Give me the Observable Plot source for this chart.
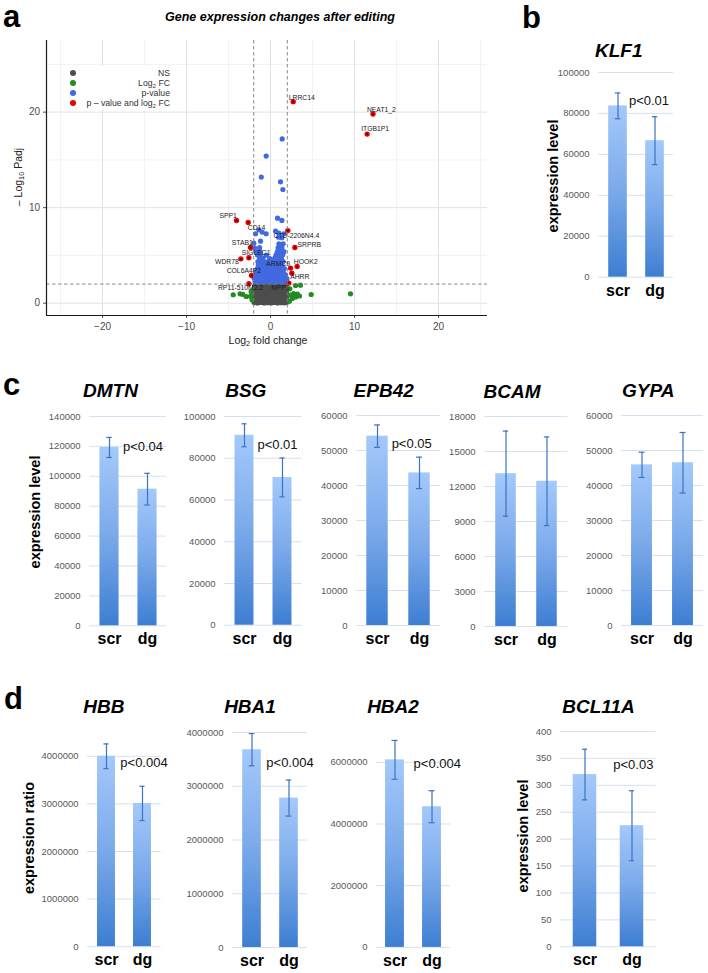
<!DOCTYPE html>
<html><head><meta charset="utf-8">
<script src="https://cdn.jsdelivr.net/npm/d3@7"></script>
<script src="https://cdn.jsdelivr.net/npm/@observablehq/plot@0.6"></script>
<style>
body{margin:0;background:#fff;font-family:"Liberation Sans",Arial,sans-serif;}
#fig{position:relative;width:708px;height:973px;overflow:hidden;background:#fff;}
.abs{position:absolute;white-space:nowrap;line-height:1;z-index:5;}
.letter{font-weight:bold;font-size:31px;color:#000;}
.gtitle{font-weight:bold;font-style:italic;font-size:19px;color:#000;transform:translate(-50%,-50%);}
.pval{font-size:13px;color:#111;transform:translate(-50%,-50%);}
.ylab{font-weight:bold;font-size:14.5px;color:#000;transform:translate(-50%,-50%) rotate(-90deg);}
.vt{font-size:10.5px;color:#222;transform:translate(-50%,-50%);}
sub{font-size:70%;vertical-align:0;position:relative;top:0.3em;line-height:0;}
#fig svg.plotsvg{position:absolute;overflow:visible;}
</style></head><body><div id="fig"></div>
<script>
// ---------- Volcano data (panel a) ----------
const volXDomain = [-26.67, 25.83];
const volYDomain = [-1.29, 27.5];
const volMajorX = [-20, -10, 0, 10, 20];
const volMinorX = [-25, -15, -5, 5, 15, 25];
const volMajorY = [0, 10, 20];
const volMinorY = [5, 15, 25];
const fcCutoff = [-2, 2];
const pCutoff = [2];

const nsPoints = [
  [-1.95,0.06],[-1.55,0.03],[-1.15,0.08],[-0.75,0.02],[-0.35,0.05],[0.05,0.03],[0.45,0.07],[0.85,0.02],[1.25,0.05],[1.65,0.04],[1.95,0.09],
  [-2.05,0.42],[-1.7,0.38],[-1.3,0.41],[-0.9,0.36],[-0.5,0.44],[-0.1,0.39],[0.3,0.43],[0.7,0.37],[1.1,0.42],[1.5,0.4],[1.85,0.45],
  [-1.95,0.78],[-1.55,0.74],[-1.15,0.79],[-0.75,0.72],[-0.35,0.77],[0.05,0.75],[0.45,0.8],[0.85,0.73],[1.25,0.76],[1.65,0.79],[1.95,0.71],
  [-2.0,1.12],[-1.65,1.08],[-1.25,1.13],[-0.85,1.07],[-0.45,1.1],[-0.05,1.14],[0.35,1.09],[0.75,1.12],[1.15,1.06],[1.55,1.11],[1.9,1.15],
  [-1.95,1.47],[-1.55,1.43],[-1.15,1.48],[-0.75,1.42],[-0.35,1.46],[0.05,1.44],[0.45,1.49],[0.85,1.41],[1.25,1.46],[1.65,1.43],[1.95,1.5],
  [-1.9,1.78],[-1.5,1.74],[-1.1,1.8],[-0.7,1.76],[-0.3,1.79],[0.1,1.73],[0.5,1.78],[0.9,1.75],[1.3,1.8],[1.7,1.77]
];
const fcPoints = [
  [-4.44,0.88],[-3.62,0.98],[-3.3,0.93],[-2.9,0.7],[-2.4,0.72],[-2.2,0.35],[-2.3,1.2],
  [2.4,0.85],[2.6,0.5],[2.75,1.0],[3.0,0.65],[3.2,0.95],[3.45,0.75],[2.98,1.85],[3.57,1.88],
  [2.3,1.5],[4.84,0.91],[9.52,0.98],[2.25,0.2]
];
const pvPoints = [
  [-1.85,2.25],[-1.45,2.27],[-1.05,2.22],[-0.65,2.26],[-0.25,2.24],[0.15,2.28],[0.55,2.23],[0.95,2.26],[1.35,2.21],[1.75,2.27],
  [-1.95,2.6],[-1.6,2.62],[-1.2,2.58],[-0.8,2.61],[-0.4,2.57],[0.0,2.63],[0.4,2.59],[0.8,2.62],[1.2,2.58],[1.6,2.61],[1.95,2.57],
  [-1.8,2.95],[-1.4,2.97],[-1.0,2.93],[-0.6,2.96],[-0.2,2.94],[0.2,2.98],[0.6,2.92],[1.0,2.96],[1.4,2.93],[1.8,2.97],
  [-1.7,3.3],[-1.3,3.32],[-0.9,3.28],[-0.5,3.31],[-0.1,3.29],[0.3,3.33],[0.7,3.27],[1.1,3.31],[1.5,3.3],
  [-1.55,3.65],[-1.15,3.67],[-0.75,3.63],[-0.35,3.66],[0.05,3.64],[0.45,3.68],[0.85,3.62],[1.25,3.66],[1.65,3.63],
  [-1.45,4.0],[-1.05,4.02],[-0.65,3.98],[-0.25,4.01],[0.15,3.99],[0.55,4.03],[0.95,3.97],[1.35,4.01],
  [-1.5,4.35],[-1.1,4.37],[-0.7,4.33],[-0.3,4.36],[0.3,4.34],[0.7,4.38],[1.1,4.32],[1.5,4.36],
  [-1.3,4.7],[-0.9,4.72],[-0.1,4.68],[0.5,4.71],[0.9,4.69],[1.3,4.73],
  [-1.55,5.05],[-1.2,5.07],[-0.5,5.03],[0.65,5.06],[1.05,5.04],[1.45,5.08],
  [-1.7,5.4],[-1.25,5.42],[0.8,5.38],[1.2,5.41],[1.6,5.39],
  [-1.9,5.8],[-1.3,5.82],[0.9,5.78],[1.35,5.81],
  [-1.98,6.28],[-1.19,6.49],[1.0,6.2],[1.5,6.22],
  [1.35,6.85],[0.95,6.9],
  [-1.79,7.27],[-1.39,7.68],[-0.99,7.44],[-0.52,7.27],[0.6,7.54],[0.99,7.33],[1.58,7.27],
  [0.83,8.9],[1.35,8.66],[1.19,12.7],[1.47,11.9],[-1.1,13.2],[-0.52,15.4],[1.39,17.2]
];
const sigGenes = ["LRRC14","NEAT1_2","ITGB1P1","SPP1","CD14","CTD-2206N4.4","SRPRB","STAB1","SIGLEC1","WDR78","HOOK2","ARMC9","AHRR","COL6A4P2","RP11-510M2.2","MPP1"];
const sigX = [2.7,12.2,11.5,-4.05,-2.66,2.06,2.9,-2.38,-2.58,-3.53,3.17,2.38,2.54,-2.26,-2.58,2.18];
const sigY = [21.1,19.8,17.7,8.66,8.45,7.6,5.83,5.83,4.75,4.64,3.84,3.67,3.14,2.9,2.03,2.1];
const sigLabelOffsets = [[8.6,-4.3],[8.4,-4.6],[8,-5],[-8.3,-5],[8.3,5.7],[8.5,5.3],[14.4,-2.3],[-8.3,-5],[7.2,-4.6],[-14,2.7],[8.6,-4.7],[-12.3,-4],[7.9,4],[-7.7,-5],[-8.3,4.4],[-8.3,5]];
const legendLabels = ["NS","Log<sub>2</sub> FC","p-value","p \u2013 value and log<sub>2</sub> FC"];
const legendColors = ["#4d4d4d","#228b22","#4169e1","#ee0000"];

// ---------- Bar chart data (panels b, c, d) ----------
const groups = ["scr","dg"];
const genes   = ["KLF1","DMTN","BSG","EPB42","BCAM","GYPA","HBB","HBA1","HBA2","BCL11A"];
const scrMean = [83700,119300,91000,54100,13100,45900,4000000,3680000,6080000,320];
const scrErr  = [6300,6700,5500,3200,3650,3600,260000,300000,630000,47];
const dgMean  = [66700,91400,70800,43600,12450,46500,3010000,2780000,4560000,225];
const dgErr   = [11700,10600,9300,4500,3800,8650,360000,335000,520000,65];
const yMax    = [100000,140000,100000,60000,18000,60000,4500000,4000000,7000000,400];
const yTicks  = [
  [0,20000,40000,60000,80000,100000],
  [0,20000,40000,60000,80000,100000,120000,140000],
  [0,20000,40000,60000,80000,100000],
  [0,10000,20000,30000,40000,50000,60000],
  [0,3000,6000,9000,12000,15000,18000],
  [0,10000,20000,30000,40000,50000,60000],
  [0,1000000,2000000,3000000,4000000],
  [0,1000000,2000000,3000000,4000000],
  [0,2000000,4000000,6000000],
  [0,50,100,150,200,250,300,350,400]
];
const pLabels = ["p<0.01","p<0.04","p<0.01","p<0.05",null,null,"p<0.004","p<0.004","p<0.004","p<0.03"];
const yTitles = ["expression level","expression level",null,null,null,null,"expression ratio",null,null,"expression level"];

// ---------- layout (pixels) ----------
const barLayout = [ // plot left, plot right, top, zero line
  [598,673,72,276.7],[89,166,415.7,625],[224,301.7,416.25,625],[356,440,415,625],[484.3,567.7,416,626],
  [621,703,415,625],[87,160.7,731.8,946],[231.7,306.7,731.7,946.7],[376,450,730.8,946.7],[560,655.7,730.7,946]
];
const titlePos = [[618.8,50],[110.5,390],[245.8,390],[383.7,390],[512,391],[648.3,390],[103.8,706],[250,706],[393,706],[598.5,706]];
const pPos = [[649,100],[143,445.7],[277.5,444],[411.7,442.7],null,null,[144,762.3],[290,762.3],[437.3,762.7],[633.3,764]];
const yTitlePos = [[553,176],[35,512],null,null,null,null,[29,838],null,null,[523.3,836]];

const fig = document.getElementById("fig");
function addDiv(html, cls, left, top) {
  const d = document.createElement("div");
  d.className = "abs " + cls;
  d.innerHTML = html;
  d.style.left = left + "px";
  d.style.top = top + "px";
  fig.appendChild(d);
  return d;
}
function place(svg, left, top) {
  svg.classList.add("plotsvg");
  svg.style.left = left + "px";
  svg.style.top = top + "px";
  fig.appendChild(svg);
}

// gradient definition shared by bars
const NS = "http://www.w3.org/2000/svg";
const gsvg = document.createElementNS(NS, "svg");
gsvg.setAttribute("width", 0); gsvg.setAttribute("height", 0);
gsvg.style.position = "absolute";
gsvg.innerHTML = '<defs><linearGradient id="barGrad" x1="0" y1="0" x2="0" y2="1">' +
  '<stop offset="0" stop-color="#a4c9fb"/><stop offset="0.5" stop-color="#7aa9ea"/><stop offset="1" stop-color="#3d7ed2"/></linearGradient></defs>';
fig.appendChild(gsvg);

// ---------- Panel a: volcano ----------
const xy = {x: d => d[0], y: d => d[1]};
const sig = sigGenes.map((g, i) => ({g, x: sigX[i], y: sigY[i]}));
const volcano = Plot.plot({
  width: 490, height: 350,
  marginLeft: 46, marginRight: 3, marginTop: 40, marginBottom: 35,
  x: {domain: volXDomain},
  y: {domain: volYDomain},
  style: {background: "transparent", fontFamily: "Liberation Sans, Arial, sans-serif", overflow: "visible"},
  marks: [
    Plot.ruleX(volMinorX, {stroke: "#ededed", strokeWidth: 0.8}),
    Plot.ruleY(volMinorY, {stroke: "#ededed", strokeWidth: 0.8}),
    Plot.ruleX(volMajorX, {stroke: "#e2e2e2", strokeWidth: 1}),
    Plot.ruleY(volMajorY, {stroke: "#e2e2e2", strokeWidth: 1}),
    Plot.dot(nsPoints, {...xy, r: 2.6, fill: legendColors[0]}),
    Plot.dot(fcPoints, {...xy, r: 2.6, fill: legendColors[1]}),
    Plot.dot(pvPoints, {...xy, r: 2.6, fill: legendColors[2]}),
    Plot.dot(sig, {x: "x", y: "y", r: 2.7, fill: legendColors[3]}),
    Plot.dot(sig, {x: "x", y: "y", r: 0.9, fill: "#000"}),
    Plot.ruleX(fcCutoff, {stroke: "#7a7a7a", strokeWidth: 0.9, strokeDasharray: "3.5,2.5"}),
    Plot.ruleY(pCutoff, {stroke: "#7a7a7a", strokeWidth: 0.9, strokeDasharray: "3.5,2.5"}),
    ...sig.map((d, i) => Plot.text([d], {x: "x", y: "y", text: "g", dx: sigLabelOffsets[i][0], dy: sigLabelOffsets[i][1], fontSize: 6.8, fill: "#1a1a1a"})),
    Plot.axisX({ticks: volMajorX, tickSize: 3, tickPadding: 4.5, label: null, fontSize: 10, color: "#4d4d4d"}),
    Plot.axisY({ticks: volMajorY, tickSize: 3, tickPadding: 3.4, label: null, fontSize: 10, color: "#4d4d4d"}),
    Plot.ruleX([volXDomain[0]], {stroke: "#1a1a1a", strokeWidth: 1.2}),
    Plot.ruleY([volYDomain[0]], {stroke: "#1a1a1a", strokeWidth: 1.2})
  ]
});
place(volcano, 0, 0);

addDiv("a", "letter", 3, 0.5);
addDiv("Gene expression changes after editing", "abs", 0, 0).remove();
const vt = addDiv("Gene expression changes after editing", "vt", 280, 17);
vt.style.fontWeight = "bold"; vt.style.fontStyle = "italic"; vt.style.fontSize = "12.5px"; vt.style.color = "#000";
addDiv("Log<sub>2</sub> fold change", "vt", 268, 340);
const yl = addDiv("\u2013 Log<sub>10</sub> Padj", "vt", 18, 177);
yl.style.transform = "translate(-50%,-50%) rotate(-90deg)";

// legend
const leg = document.createElement("div");
leg.className = "abs";
leg.style.cssText = "left:62px;top:66px;width:112px;height:44px;background:#fff;";
fig.appendChild(leg);
legendLabels.forEach((lab, i) => {
  const dot = document.createElement("div");
  dot.style.cssText = `position:absolute;left:${73-62-3}px;top:${7 + i*10 - 3}px;width:6px;height:6px;border-radius:50%;background:${legendColors[i]};`;
  leg.appendChild(dot);
  const t = document.createElement("div");
  t.style.cssText = `position:absolute;right:${174-170}px;top:${7 + i*10}px;transform:translateY(-50%);font-size:8.7px;color:#333;white-space:nowrap;line-height:1;`;
  t.innerHTML = lab;
  leg.appendChild(t);
});

// ---------- Bar panels ----------
function barChart(i) {
  const [pl, pr, top, zero] = barLayout[i];
  const W = pr - pl;
  const band = W / 2;
  const mL = 52, mR = 6, mT = 12, mB = 30;
  const data = [
    {g: groups[0], v: scrMean[i], e: scrErr[i]},
    {g: groups[1], v: dgMean[i], e: dgErr[i]}
  ];
  const errColor = "#3b73c0";
  const capInset = (band - 6) / 2;
  const p = Plot.plot({
    width: W + mL + mR, height: (zero - top) + mT + mB,
    marginLeft: mL, marginRight: mR, marginTop: mT, marginBottom: mB,
    x: {domain: groups, padding: 0},
    y: {domain: [0, yMax[i]]},
    style: {background: "transparent", fontFamily: "Liberation Sans, Arial, sans-serif", overflow: "visible"},
    marks: [
      Plot.ruleY(yTicks[i], {stroke: "#d6e1f2", strokeWidth: 1}),
      Plot.barY(data, {x: "g", y: "v", fill: "url(#barGrad)", insetLeft: band * 0.245, insetRight: band * 0.245}),
      Plot.ruleX(data, {x: "g", y1: d => d.v - d.e, y2: d => d.v + d.e, stroke: errColor, strokeWidth: 1.2}),
      Plot.tickY(data, {x: "g", y: d => d.v + d.e, stroke: errColor, strokeWidth: 1.2, insetLeft: capInset, insetRight: capInset}),
      Plot.tickY(data, {x: "g", y: d => d.v - d.e, stroke: errColor, strokeWidth: 1.2, insetLeft: capInset, insetRight: capInset}),
      Plot.axisY({ticks: yTicks[i], tickSize: 0, tickPadding: 9, tickFormat: d3.format("d"), label: null, fontSize: 9.5, color: "#595959"}),
      Plot.axisX({tickSize: 0, tickPadding: 7, label: null, fontSize: 16, fontWeight: "bold", color: "#000"})
    ]
  });
  place(p, pl - mL, top - mT);
  addDiv(genes[i], "gtitle", titlePos[i][0], titlePos[i][1]);
  if (pLabels[i]) addDiv(pLabels[i], "pval", pPos[i][0], pPos[i][1]);
  if (yTitles[i]) addDiv(yTitles[i], "ylab", yTitlePos[i][0], yTitlePos[i][1]);
}
genes.forEach((g, i) => barChart(i));

addDiv("b", "letter", 522, 2.1);
addDiv("c", "letter", 3, 368.8);
addDiv("d", "letter", 4, 683.1);
</script></body></html>
